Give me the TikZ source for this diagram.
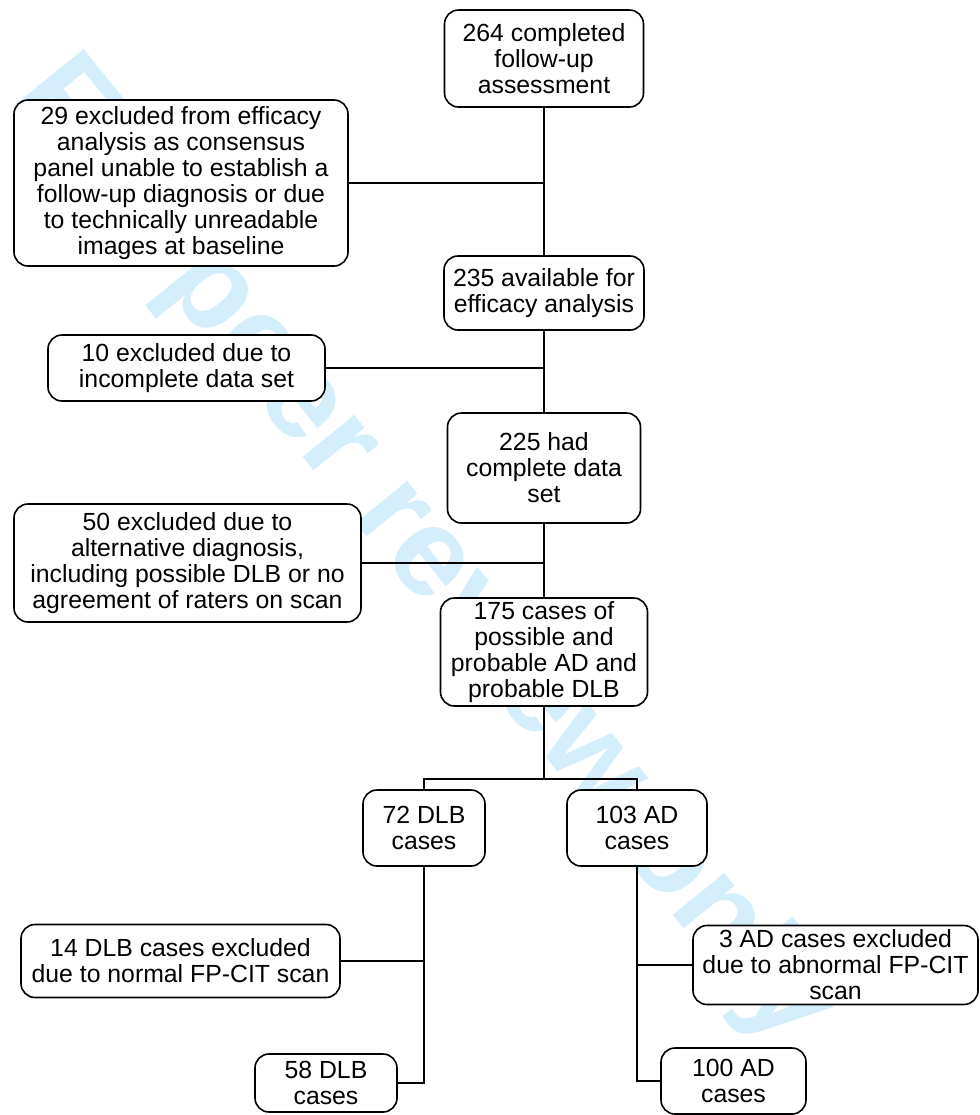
\documentclass[tikz,border=0pt]{standalone}
\usepackage{fontspec}
\setmainfont{Liberation Sans}
\usetikzlibrary{positioning}
\definecolor{wmark}{RGB}{212,238,251}

\tikzset{
    flowbox/.style={draw, fill=white, rounded corners=7pt, line width=0.8pt,
        align=center, inner sep=0pt, font=\fontsize{12.4}{13}\selectfont},
    spine/.style={line width=1.3pt},
    branch/.style={line width=0.7pt}
}

\begin{document}
\begin{tikzpicture}[x=0.5pt,y=-0.5pt]
    \useasboundingbox (0,0) rectangle (980,1115);
    % watermark behind everything
    \node[wmark, inner sep=0pt, rotate=-51, font=\fontsize{63}{63}\selectfont\bfseries] (wm) at (422,553) {For peer review only};

    % main column
    \node[flowbox, minimum width=99.5pt, minimum height=48.5pt] (n264) at (544,58.5) {264 completed\\follow-up\\assessment};
    \node[flowbox, minimum width=167pt, minimum height=83pt] (ex29) at (181,183) {29 excluded from efficacy\\analysis as consensus\\panel unable to establish a\\follow-up diagnosis or due\\to technically unreadable\\images at baseline};
    \node[flowbox, minimum width=100pt, minimum height=37pt] (n235) at (544,293) {235 available for\\efficacy analysis};
    \node[flowbox, minimum width=138.5pt, minimum height=33pt] (ex10) at (186.5,368) {10 excluded due to\\incomplete data set};
    \node[flowbox, minimum width=96.5pt, minimum height=55pt] (n225) at (544,468) {225 had\\complete data\\set};
    \node[flowbox, minimum width=173.5pt, minimum height=59pt] (ex50) at (187.5,563) {50 excluded due to\\alternative diagnosis,\\including possible DLB or no\\agreement of raters on scan};
    \node[flowbox, minimum width=103.5pt, minimum height=54pt] (n175) at (544,652) {175 cases of\\possible and\\probable AD and\\probable DLB};

    % split into DLB and AD
    \node[flowbox, minimum width=61pt, minimum height=38pt] (dlb72) at (424,828) {72 DLB\\cases};
    \node[flowbox, minimum width=70pt, minimum height=38pt] (ad103) at (637,828) {103 AD\\cases};
    \node[flowbox, minimum width=159.5pt, minimum height=36.5pt] (ex14) at (180.5,961) {14 DLB cases excluded\\due to normal FP-CIT scan};
    \node[flowbox, minimum width=142.5pt, minimum height=39.5pt] (ex3) at (835.5,965) {3 AD cases excluded\\due to abnormal FP-CIT\\scan};
    \node[flowbox, minimum width=71pt, minimum height=29pt] (dlb58) at (326,1083) {58 DLB\\cases};
    \node[flowbox, minimum width=72.5pt, minimum height=33pt] (ad100) at (733.5,1081) {100 AD\\cases};

    \coordinate (split) at (544,779);

    \draw[spine] (n264) -- (n235);
    \draw[branch] (ex29.east) -- (ex29.east -| n264);
    \draw[spine] (n235) -- (n225);
    \draw[branch] (ex10.east) -- (ex10.east -| n235);
    \draw[spine] (n225) -- (n175);
    \draw[branch] (ex50.east) -- (ex50.east -| n225);
    \draw[spine] (n175) -- (split);
    \draw[spine] (dlb72.north) |- (split) -| (ad103.north);

    % DLB branch
    \draw[spine] (dlb72.south) |- (dlb58.east);
    \draw[branch] (ex14.east) -- (ex14.east -| dlb72);
    % AD branch
    \draw[spine] (ad103.south) |- (ad100.west);
    \draw[branch] (ex3.west) -- (ex3.west -| ad103);
\end{tikzpicture}
\end{document}
